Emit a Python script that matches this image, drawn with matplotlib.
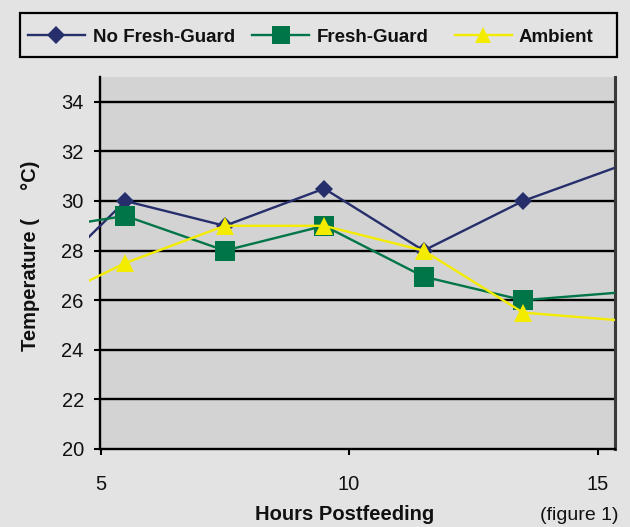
import matplotlib
matplotlib.use('Agg')
import matplotlib.pyplot as plt
from matplotlib.patches import Rectangle
from matplotlib.lines import Line2D
import matplotlib.transforms as mtransforms

# ---- data ----
hours = [3.5, 5.5, 7.5, 9.5, 11.5, 13.5, 15.5]
no_fresh_guard = [26.05, 30.0, 29.0, 30.5, 28.0, 30.0, 31.45]
fresh_guard = [28.77, 29.4, 28.0, 29.0, 26.95, 26.0, 26.32]
ambient = [25.55, 27.5, 29.0, 29.0, 28.0, 25.5, 25.18]
series_names = ["No Fresh-Guard", "Fresh-Guard", "Ambient"]
x_ticks = [5, 10, 15]
y_ticks = [20, 22, 24, 26, 28, 30, 32, 34]
x_label = "Hours Postfeeding"
y_label = "Temperature (     \u00b0C)"
note = "(figure 1)"

plt.rcParams['font.family'] = ['Liberation Sans', 'DejaVu Sans']

W, H = 630, 527
fig = plt.figure(figsize=(W / 100, H / 100), dpi=100, facecolor='#E3E3E3')
ax = fig.add_axes([100.5 / W, 1 - 449 / H, (615 - 100.5) / W, (449 - 77) / H])
ax.set_facecolor('#D3D3D3')
ax.set_xlim(5, 15.35)
ax.set_ylim(20, 35)

for y in y_ticks[1:]:
    ax.axhline(y, color='black', lw=1.7, zorder=1)

clip = Rectangle((4.77, 0), 15.35 - 4.77, 1,
                 transform=mtransforms.blended_transform_factory(ax.transData, ax.transAxes),
                 facecolor='none', edgecolor='none')
ax.add_patch(clip)

styles = [
    (no_fresh_guard, '#262E6C', 'D', 9.5),
    (fresh_guard, '#007548', 's', 14),
    (ambient, '#F4EC00', '^', 13),
]
for (vals, col, mk, ms), name in zip(styles, series_names):
    ln, = ax.plot(hours, vals, color=col, lw=1.7, marker=mk, markersize=ms,
                  markevery=slice(1, -1), markeredgewidth=0, label=name,
                  clip_on=True, zorder=3)
    ln.set_clip_path(clip)

ax.spines['top'].set_visible(False)
ax.spines['left'].set_linewidth(1.7)
ax.spines['bottom'].set_linewidth(1.7)
ax.spines['right'].set_linewidth(2.2)
ax.spines['right'].set_color('#3A3A3A')

ax.set_xticks(x_ticks)
ax.set_yticks(y_ticks)
ax.tick_params(axis='both', direction='out', length=4, width=1.5, color='black',
               labelsize=14.5, labelcolor='#111111')
ax.tick_params(axis='x', pad=15)
ax.tick_params(axis='y', pad=8)

fig.text(345 / W, 1 - 520 / H, x_label, ha='center', va='baseline',
         fontsize=14.5, fontweight='bold', color='#111111')
fig.text(618 / W, 1 - 520 / H, note, ha='right', va='baseline',
         fontsize=14, color='#111111')
fig.text(31 / W, 1 - 256 / H, y_label, ha='center', va='center', rotation=90,
         fontsize=14.5, fontweight='bold', color='#111111')

# ---- legend (drawn in figure pixel positions) ----
def fx(px):
    return px / W

def fy(py):
    return 1 - py / H

fig.add_artist(Rectangle((fx(20), fy(57.3)), fx(617) - fx(20), fy(13.3) - fy(57.3),
                         transform=fig.transFigure, facecolor='none',
                         edgecolor='black', lw=1.6))
leg_y = 35
leg_items = [(28, 85, 56, 93), (252, 309, 281, 317), (455, 512, 483, 519)]
leg_ms = [9.5, 13, 12]
for (x1, x2, xm, xt), (vals, col, mk, ms), lms, name in zip(leg_items, styles, leg_ms, series_names):
    fig.add_artist(Line2D([fx(x1), fx(x2)], [fy(leg_y), fy(leg_y)],
                          transform=fig.transFigure, color=col, lw=1.7))
    fig.add_artist(Line2D([fx(xm)], [fy(leg_y)], transform=fig.transFigure,
                          color=col, marker=mk, markersize=lms, markeredgewidth=0,
                          linestyle='none'))
    fig.text(fx(xt), fy(leg_y), name, ha='left', va='center_baseline',
             fontsize=13.5, fontweight='bold', color='#111111')

fig.savefig('out.png', dpi=100, facecolor=fig.get_facecolor())
